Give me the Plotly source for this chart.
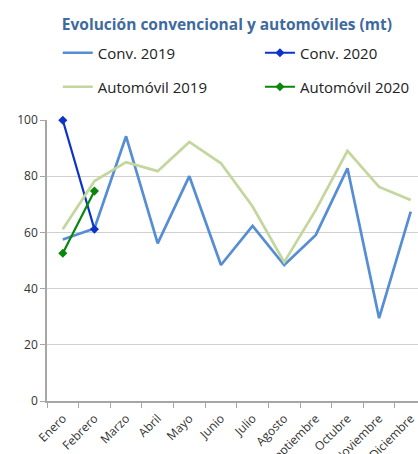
import plotly.graph_objects as go

# ── data ───────────────────────────────────────────────────────────────────
meses = ["Enero", "Febrero", "Marzo", "Abril", "Mayo", "Junio", "Julio",
         "Agosto", "Septiembre", "Octubre", "Noviembre", "Diciembre"]
conv_2019 = [57.5, 61.4, 94.2, 56.1, 80.0, 48.4, 62.3, 48.4, 59.1, 82.8, 29.5, 67.4]
auto_2019 = [61.1, 78.3, 85.0, 81.8, 92.2, 84.6, 69.2, 49.4, 68.0, 89.0, 76.2, 71.5]
conv_2020 = [99.9, 61.1]
auto_2020 = [52.6, 74.7]

# ── palette ────────────────────────────────────────────────────────────────
_CONV19 = "#558ED5"
_CONV20 = "#0B33C8"
_AUTO19 = "#C3D69B"
_AUTO20 = "#0A860A"
_TITLE  = "#3E6A9E"
_TEXT   = "#333333"
_GRID   = "#D0D0D0"
_AXIS   = "#A6A6A6"
_FONT   = "Open Sans, sans-serif"

fig = go.Figure()
fig.add_trace(go.Scatter(
    x=meses, y=conv_2019, mode="lines", name="Conv. 2019",
    line=dict(color=_CONV19, width=2.7), legend="legend"))
fig.add_trace(go.Scatter(
    x=meses[:len(conv_2020)], y=conv_2020, mode="lines+markers", name="Conv. 2020",
    line=dict(color=_CONV20, width=2.2), cliponaxis=False,
    marker=dict(symbol="diamond", size=7, color=_CONV20), legend="legend2"))
fig.add_trace(go.Scatter(
    x=meses, y=auto_2019, mode="lines", name="Automóvil 2019",
    line=dict(color=_AUTO19, width=2.7), legend="legend3"))
fig.add_trace(go.Scatter(
    x=meses[:len(auto_2020)], y=auto_2020, mode="lines+markers", name="Automóvil 2020",
    line=dict(color=_AUTO20, width=2.2), cliponaxis=False,
    marker=dict(symbol="diamond", size=7, color=_AUTO20), legend="legend4"))

# one legend per entry so the 2x2 grid lands where the reference has it
_legend = dict(orientation="h", xanchor="left", yanchor="middle",
               bgcolor="rgba(0,0,0,0)",
               font=dict(family=_FONT, size=15, color="#222222"),
               itemclick=False, itemdoubleclick=False)
_col1, _col2 = 0.029, 0.574
_row1, _row2 = (401 - 53) / 281, (401 - 87) / 281

fig.update_layout(
    width=418, height=454,
    margin=dict(l=47, r=0, t=120, b=53),
    showlegend=True,
    paper_bgcolor="white", plot_bgcolor="white",
    font=dict(family=_FONT, color=_TEXT),
    title=dict(text="<b>Evolución convencional y automóviles (mt)</b>",
               x=0.543, xanchor="center", y=1 - 25 / 454, yanchor="middle",
               font=dict(family=_FONT, size=15.5, color=_TITLE)),
    legend=dict(**_legend, x=_col1, y=_row1),
    legend2=dict(**_legend, x=_col2, y=_row1),
    legend3=dict(**_legend, x=_col1, y=_row2),
    legend4=dict(**_legend, x=_col2, y=_row2),
    xaxis=dict(type="category", range=[-0.5, 11.23], showgrid=False,
               automargin=False,
               showline=True, linecolor=_AXIS, linewidth=1.5,
               ticks="outside", tickson="boundaries", ticklen=5,
               tickcolor=_AXIS, tickangle=-45, ticklabelstandoff=4,
               tickfont=dict(family=_FONT, size=12, color=_TEXT)),
    yaxis=dict(range=[0, 100], dtick=20, showgrid=True, gridcolor=_GRID,
               automargin=False,
               gridwidth=1.2, zeroline=False, showline=True, linecolor=_AXIS,
               linewidth=1.5, ticks="outside", ticklen=5, tickcolor=_AXIS,
               tickfont=dict(family=_FONT, size=12, color=_TEXT)),
)

# drop the browser's default 8px body margin so the figure sits at 0,0
fig.write_html("out.html", config={"displayModeBar": False},
               post_script="document.body.style.margin = '0';")
